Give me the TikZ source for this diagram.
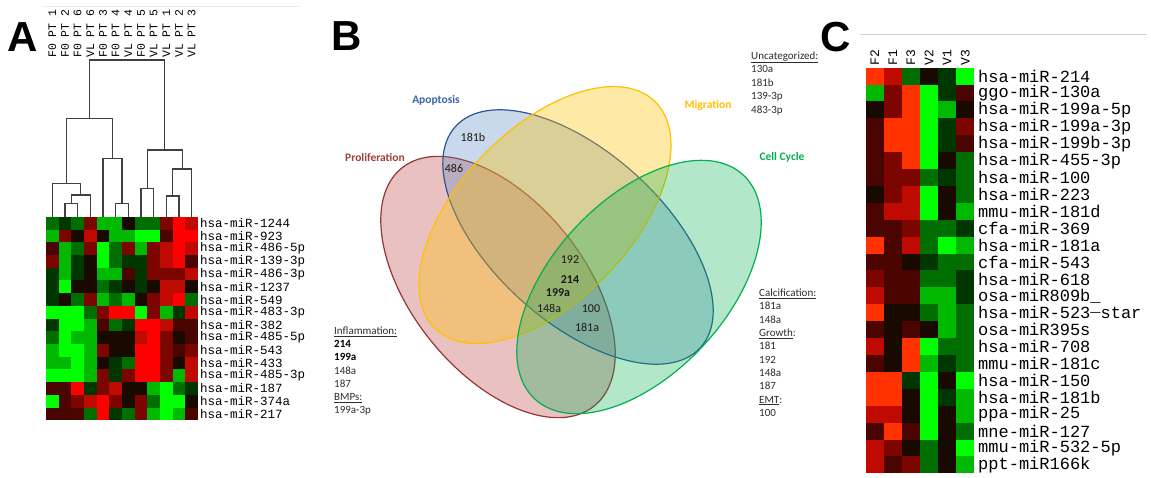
\documentclass[tikz,border=0pt]{standalone}
\usepackage{fontspec}
\setmainfont{Carlito}
\newfontfamily\monofont{Liberation Mono}
\newfontfamily\panelfont{Liberation Sans}
\definecolor{hGa}{RGB}{0,255,0}
\definecolor{hGb}{RGB}{0,185,0}
\definecolor{hGc}{RGB}{0,110,0}
\definecolor{hGd}{RGB}{0,55,0}
\definecolor{hK}{RGB}{25,10,0}
\definecolor{hRd}{RGB}{75,5,0}
\definecolor{hRc}{RGB}{125,5,0}
\definecolor{hRb}{RGB}{190,10,0}
\definecolor{hRa}{RGB}{255,0,0}
\definecolor{hRo}{RGB}{255,50,0}
\definecolor{dendcol}{RGB}{64,64,64}
\definecolor{proS}{RGB}{149,55,53}
\definecolor{proF}{RGB}{192,80,77}
\definecolor{apoS}{RGB}{47,85,151}
\definecolor{apoF}{RGB}{79,129,189}
\definecolor{migS}{RGB}{255,192,0}
\definecolor{migF}{RGB}{255,192,0}
\definecolor{celS}{RGB}{0,176,80}
\definecolor{celF}{RGB}{0,176,80}
\definecolor{apoT}{RGB}{58,100,168}
\definecolor{proT}{RGB}{160,64,62}
\definecolor{listcol}{RGB}{45,45,45}
\begin{document}
\begin{tikzpicture}[x=1pt,y=-1pt,
  panel/.style={font=\panelfont\bfseries\fontsize{42}{42}\selectfont, inner sep=0},
  rowA/.style={font=\monofont\fontsize{12.5}{12.5}\selectfont, anchor=west, inner sep=0},
  colA/.style={font=\monofont\fontsize{11.5}{11.5}\selectfont, anchor=west, rotate=90, inner sep=0},
  rowC/.style={font=\monofont\fontsize{17}{17}\selectfont, anchor=west, inner sep=0},
  colC/.style={font=\monofont\fontsize{13}{13}\selectfont, anchor=west, rotate=90, inner sep=0},
  dendro/.style={draw=dendcol, line width=1.3pt},
  venn/.style={line width=1.2pt},
  setlabel/.style={font=\bfseries\fontsize{11.5}{11.5}\selectfont, inner sep=0},
  innerlab/.style={font=\fontsize{12}{12}\selectfont, inner sep=0, text=black!90},
  listtxt/.style={font=\fontsize{11}{11}\selectfont, anchor=base west, inner sep=0, text=listcol}
]
\useasboundingbox (0,0) rectangle (1151,478);
\fill[white] (0,0) rectangle (1151,478);

% ---------------- Panel A ----------------
\node[panel] (pA) at (23,37) {A};
\draw[black!8, line width=0.8pt] (43,6) -- (300,6);
\foreach \rowlist [count=\rowidx] in {
 {Gc,Gd,Gc,Rc,Gb,Gb,K,Gc,Gc,Rc,Ra,Rb},
 {Gb,Rc,K,Rb,K,Gb,Gb,Ga,Ga,Rd,Ra,Ra},
 {Rd,Gb,Gc,Rc,Ga,Gc,Rc,Gb,Rc,Rb,Ra,Rb},
 {Rc,Gb,Gd,K,Ga,Gc,Gd,Gd,Rc,Rb,Ra,Rd},
 {Gd,Gb,Gd,K,Gb,Gb,Rd,Gd,Rc,Rc,Rc,Rb},
 {Gd,Ga,K,K,Gc,Gd,K,Gd,K,Rb,Rb,K},
 {Gd,K,Gc,Rc,Gb,Gc,Gb,K,Rc,Rb,Ra,Gc},
 {Ga,Ga,Ga,Gc,Rc,Ra,Ra,Ga,Rc,Gb,Gd,Rb},
 {Gd,Ga,Ga,Gb,Rd,Gc,Gd,Ra,Ra,Rb,Rd,Rd},
 {Gc,Ga,Gb,Gb,K,K,K,Rb,Ra,Rc,K,Rd},
 {Gb,Ga,Ga,Gb,Rc,K,K,Ra,Ra,Rc,Rd,Rc},
 {Gb,Gb,Ga,Gb,K,Gd,Gc,Ra,Ra,Rc,K,Rb},
 {Ga,Ga,Ga,Gb,Rc,Gd,Rc,Ra,Ra,Rc,Gb,Rb},
 {Rd,Rd,Ra,Gd,Rc,Rb,K,K,Gb,Ga,Gc,Gd},
 {Ga,Rd,Rc,Rb,Ra,Rc,K,Rc,Gc,Ga,Ga,K},
 {Rd,Rd,Rd,Gc,Ra,Gd,Gc,Rc,Gb,Ga,Gb,Rd}}
 {\foreach \cellc [count=\colidx] in \rowlist
   {\fill[fill=h\cellc] ({46+12.67*(\colidx-1)},{217+12.7*(\rowidx-1)}) rectangle ++(12.8,12.8);}}

\foreach \t [count=\i] in {hsa-miR-1244,hsa-miR-923,hsa-miR-486-5p,hsa-miR-139-3p,hsa-miR-486-3p,hsa-miR-1237,hsa-miR-549,hsa-miR-483-3p,hsa-miR-382,hsa-miR-485-5p,hsa-miR-543,hsa-miR-433,hsa-miR-485-3p,hsa-miR-187,hsa-miR-374a,hsa-miR-217}
  \node[rowA] (ra\i) at (200,{217+12.7*(\i-0.5)}) {\t};

\foreach \t [count=\i] in {F0 PT 1,F0 PT 2,F0 PT 6,VL PT 6,F0 PT 3,F0 PT 4,VL PT 4,F0 PT 5,VL PT 5,VL PT 1,VL PT 2,VL PT 3}
  \node[colA] (ca\i) at ({46+12.67*(\i-0.5)},58) {\t};

% dendrogram
\foreach \i in {1,...,12} \coordinate (lf\i) at ({46+12.67*(\i-0.5)},217);
\coordinate (n23) at (71.3,203.3);
\draw[dendro] (lf2) |- (n23) -| (lf3);
\coordinate (n234) at (80.8,195);
\draw[dendro] (n23) |- (n234) -| (lf4);
\coordinate (n1234) at (66.6,183.3);
\draw[dendro] (lf1) |- (n1234) -| (n234);
\coordinate (n67) at (122,203.3);
\draw[dendro] (lf6) |- (n67) -| (lf7);
\coordinate (n567) at (112.5,158.3);
\draw[dendro] (lf5) |- (n567) -| (n67);
\coordinate (nL) at (89.6,118.3);
\draw[dendro] (n1234) |- (nL) -| (n567);
\coordinate (n89) at (147.3,188.3);
\draw[dendro] (lf8) |- (n89) -| (lf9);
\coordinate (n1011) at (172.7,196);
\draw[dendro] (lf10) |- (n1011) -| (lf11);
\coordinate (n101112) at (182.2,169);
\draw[dendro] (n1011) |- (n101112) -| (lf12);
\coordinate (nR) at (164.8,150);
\draw[dendro] (n89) |- (nR) -| (n101112);
\coordinate (root) at (127.2,60);
\draw[dendro] (nL) |- (root) -| (nR);

% ---------------- Panel B ----------------
\node[panel] (pB) at (347,36) {B};
\path[venn, draw=proS, fill=proF, fill opacity=0.35, rotate around={-51:(498,287)}] (498,287) ellipse [x radius=153pt, y radius=86pt];
\path[venn, draw=apoS, fill=apoF, fill opacity=0.30, rotate around={-42:(578,237)}] (578,237) ellipse [x radius=165pt, y radius=85pt];
\path[venn, draw=migS, fill=migF, fill opacity=0.35, rotate around={46:(545,215)}] (545,215) ellipse [x radius=158pt, y radius=86pt];
\path[venn, draw=celS, fill=celF, fill opacity=0.30, rotate around={47:(639,287)}] (639,287) ellipse [x radius=153pt, y radius=87pt];

\node[setlabel, text=apoT] (lapo) at (436,100) {Apoptosis};
\node[setlabel, text=proT] (lpro) at (375,158) {Proliferation};
\node[setlabel, text=migS] (lmig) at (708,105) {Migration};
\node[setlabel, text=celS] (lcel) at (782,157) {Cell Cycle};

\node[innerlab] (i181b) at (473,137) {181b};
\node[innerlab] (i486) at (454,168) {486};
\node[innerlab] (i192) at (570,260) {192};
\node[innerlab, font=\bfseries\fontsize{12}{12}\selectfont] (i214) at (570,280) {214};
\node[innerlab, font=\bfseries\fontsize{12}{12}\selectfont] (i199a) at (558,293) {199a};
\node[innerlab] (i148a) at (549,308) {148a};
\node[innerlab] (i100) at (591,309) {100};
\node[innerlab] (i181a) at (587,327) {181a};

\foreach \t [count=\i] in {{\underline{Uncategorized:}},130a,181b,139-3p,483-3p}
  \node[listtxt] (unc\i) at (751,{59.4+13.5*(\i-1)}) {\t};
\foreach \t [count=\i] in {{\underline{Inflammation:}},{\textcolor{black}{\bfseries 214}},{\textcolor{black}{\bfseries 199a}},148a,187,{\underline{BMPs:}},199a-3p}
  \node[listtxt] (inf\i) at (334,{334.4+13.2*(\i-1)}) {\t};
\foreach \t [count=\i] in {{\underline{Calcification:}},181a,148a,{\underline{Growth}:},181,192,148a,187,{\underline{EMT}:},100}
  \node[listtxt] (cal\i) at (759,{296.4+13.33*(\i-1)}) {\t};

% ---------------- Panel C ----------------
\node[panel] (pC) at (836,37) {C};
\draw[black!18, line width=1pt] (860,35) -- (1147,35);
\foreach \rowlist [count=\rowidx] in {
 {Ro,Rb,Gc,K,Gd,Ga},
 {Gb,Rc,Ro,Ga,Gd,Rd},
 {K,Rc,Ro,Ga,Gb,K},
 {Rd,Ro,Ro,Ga,Gd,Rc},
 {Rd,Ro,Ro,Ga,Gd,Rd},
 {Rd,Rc,Ro,Ga,K,Gc},
 {Rd,Rc,Rc,Gc,Gd,Gc},
 {K,Rc,Rb,Ga,K,Gc},
 {Rd,Rb,Rb,Ga,K,Gb},
 {Rd,Rd,Rc,Gc,Gc,Gd},
 {Ro,Rd,Rb,Gc,Ga,Gb},
 {Rd,Rd,K,Gd,Gc,Gc},
 {Rc,Rd,Rd,Gc,Gc,Gd},
 {Rb,Rd,Rd,Gb,Gb,Gd},
 {Ro,K,K,Gc,Gb,Gc},
 {Rd,K,Rd,K,Gb,Gc},
 {Rb,K,Ro,Ga,Gc,Gc},
 {Rd,K,Ro,Gb,Gd,Gc},
 {Ro,Ro,Gd,Ga,K,Ga},
 {Ro,Ro,K,Ga,Gd,Gb},
 {Rb,Rb,K,Ga,K,Gb},
 {Rd,Ro,Rd,Ga,K,Gc},
 {Rb,Rc,K,Gc,K,Ga},
 {Rb,Rd,Rc,Gc,K,Gb}}
 {\foreach \cellc [count=\colidx] in \rowlist
   {\fill[fill=h\cellc] ({865.7+18.1*(\colidx-1)},{67.7+16.9*(\rowidx-1)}) rectangle ++(18.2,17);}}

\foreach \t [count=\i] in {hsa-miR-214,ggo-miR-130a,hsa-miR-199a-5p,hsa-miR-199a-3p,hsa-miR-199b-3p,hsa-miR-455-3p,hsa-miR-100,hsa-miR-223,mmu-miR-181d,cfa-miR-369,hsa-miR-181a,cfa-miR-543,hsa-miR-618,{osa-miR809b\_},{hsa-miR-523\raisebox{0.45em}{\_}star},osa-miR395s,hsa-miR-708,mmu-miR-181c,hsa-miR-150,hsa-miR-181b,ppa-miR-25,mne-miR-127,mmu-miR-532-5p,ppt-miR166k}
  \node[rowC] (rc\i) at (978,{67.7+16.9*(\i-0.5)}) {\t};

\foreach \t [count=\i] in {F2,F1,F3,V2,V1,V3}
  \node[colC] (cc\i) at ({865.7+18.1*(\i-0.5)},66) {\t};
\end{tikzpicture}
\end{document}
